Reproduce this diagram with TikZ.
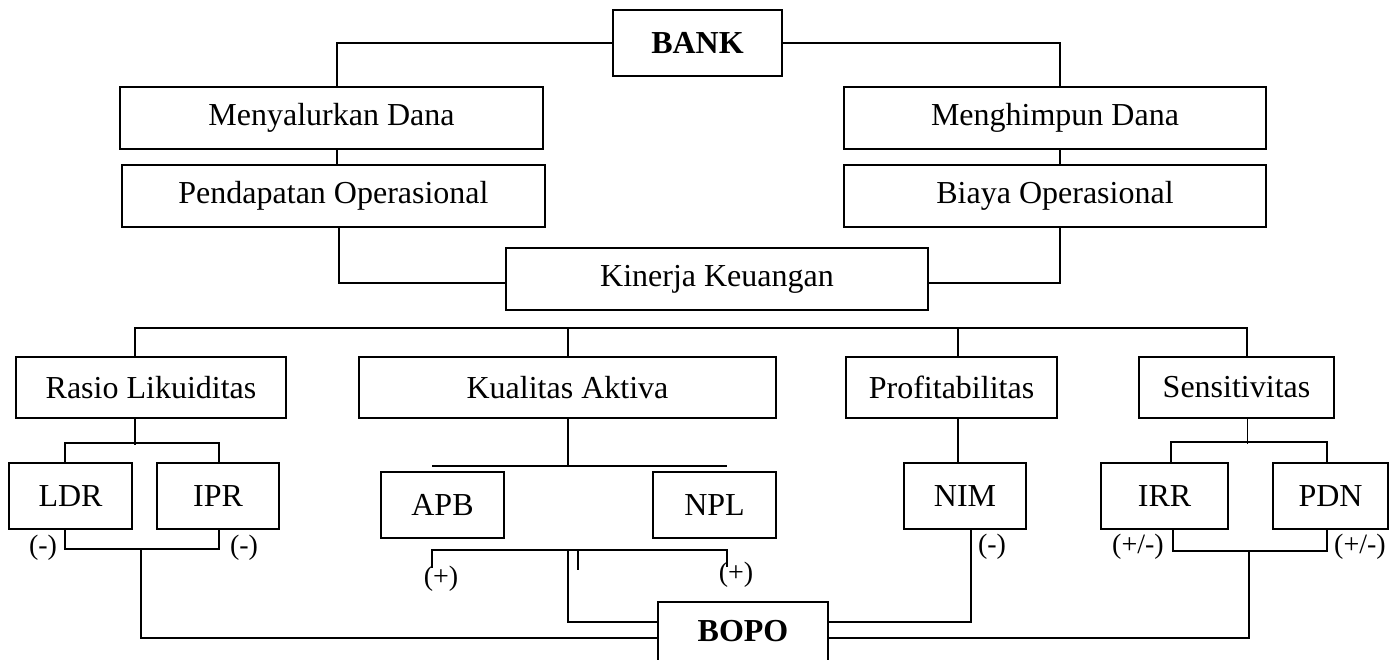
\documentclass[tikz,border=0pt]{standalone}
\usepackage{fontspec}
\setmainfont{Liberation Serif}
\begin{document}
\begin{tikzpicture}[x=1pt,y=-1pt,
  box/.style={draw, line width=1.8pt, inner sep=0pt, font=\fontsize{32}{38}\selectfont},
  lbl/.style={inner sep=0pt, font=\fontsize{28}{33}\selectfont},
  conn/.style={line width=1.8pt}]
\useasboundingbox (0,0) rectangle (1394,660);
% nodes
\node[box, minimum width=169pt, minimum height=66pt, font=\fontsize{32}{38}\selectfont\bfseries] (bank) at (697.5,43) {BANK};
\node[box, minimum width=423pt, minimum height=62pt] (menyal) at (331.5,118) {Menyalurkan Dana};
\node[box, minimum width=423pt, minimum height=62pt] (pendap) at (333.5,196) {Pendapatan Operasional};
\node[box, minimum width=422pt, minimum height=62pt] (menghim) at (1055,118) {Menghimpun Dana};
\node[box, minimum width=422pt, minimum height=62pt] (biaya) at (1055,196) {Biaya Operasional};
\node[box, minimum width=422pt, minimum height=62pt] (kinerja) at (717,279) {Kinerja Keuangan};
\node[box, minimum width=270pt, minimum height=61pt] (rasio) at (151,387.5) {Rasio Likuiditas};
\node[box, minimum width=417pt, minimum height=61pt] (kualitas) at (567.5,387.5) {Kualitas Aktiva};
\node[box, minimum width=211pt, minimum height=61pt] (profit) at (951.5,387.5) {Profitabilitas};
\node[box, minimum width=195pt, minimum height=61pt] (sensit) at (1236.5,387.5) {Sensitivitas};
\node[box, minimum width=123pt, minimum height=66pt] (ldr) at (70.5,496) {LDR};
\node[box, minimum width=122pt, minimum height=66pt] (ipr) at (218,496) {IPR};
\node[box, minimum width=123pt, minimum height=66pt] (apb) at (442.5,505) {APB};
\node[box, minimum width=123pt, minimum height=66pt] (npl) at (714.5,505) {NPL};
\node[box, minimum width=122pt, minimum height=66pt] (nim) at (965,496) {NIM};
\node[box, minimum width=127pt, minimum height=66pt] (irr) at (1164.5,496) {IRR};
\node[box, minimum width=115pt, minimum height=66pt] (pdn) at (1330.5,496) {PDN};
\node[box, draw=none, minimum width=168pt, minimum height=57pt, font=\fontsize{32}{38}\selectfont\bfseries] (bopo) at (743,631.5) {BOPO};
\draw[conn] (bopo.south west) -- (bopo.north west) -- (bopo.north east) -- (bopo.south east);
% labels
\node[lbl] (l1) at (43,548) {(-)};
\node[lbl] (l2) at (244,548) {(-)};
\node[lbl] (l3) at (441,579) {(+)};
\node[lbl] (l4) at (736,575) {(+)};
\node[lbl] (l5) at (992,547) {(-)};
\node[lbl] (l6) at (1138,547) {(+/-)};
\node[lbl] (l7) at (1360,547) {(+/-)};
% coordinates
\coordinate (liq) at (141,548);
\coordinate (kaTL) at (432,466);
\coordinate (kaTR) at (727,466);
\coordinate (kaBL) at (432,568);
\coordinate (kaBR) at (727,567);
\coordinate (kaM) at (568,550);
\coordinate (tickA) at (578,550);
\coordinate (tickB) at (578,570);
\coordinate (sen) at (1249,550);
% connectors top
\draw[conn] (bank.west) -| ([xshift=5.5pt]menyal.north);
\draw[conn] (bank.east) -| ([xshift=5pt]menghim.north);
\draw[conn] ([xshift=5.5pt]menyal.south) -- ([xshift=3.5pt]pendap.north);
\draw[conn] ([xshift=5pt]menghim.south) -- ([xshift=5pt]biaya.north);
\draw[conn] ([xshift=5.5pt]pendap.south) |- ([yshift=-4pt]kinerja.west);
\draw[conn] ([xshift=5pt]biaya.south) |- ([yshift=-4pt]kinerja.east);
% level 3 bus
\draw[conn] ([xshift=-16pt]rasio.north) -- ++(0,-28) -| ([xshift=10.5pt]sensit.north);
\draw[conn] ([xshift=0.5pt]kualitas.north) -- ++(0,-28);
\draw[conn] ([xshift=6.5pt]profit.north) -- ++(0,-28);
% liquidity
\draw[conn] ([xshift=-16pt]rasio.south) -- ++(0,26);
\draw[conn] ([xshift=-5.5pt]ldr.north) -- ++(0,-19) -| ([xshift=1pt]ipr.north);
\draw[conn] ([xshift=-5.5pt]ldr.south) -- ++(0,19) -| ([xshift=1pt]ipr.south);
\draw[conn] (liq) |- ([yshift=-6.5pt]bopo.west);
% asset quality
\draw[conn] ([xshift=0.5pt]kualitas.south) -- ([xshift=0.5pt]kualitas.south |- kaTL);
\draw[conn] (kaTL) -- (kaTR);
\draw[conn] (kaBL) |- (kaM) -| (kaBR);
\draw[conn] (tickA) -- (tickB);
\draw[conn] (kaM) |- ([yshift=9.5pt]bopo.west);
% profitability
\draw[conn] ([xshift=6.5pt]profit.south) -- ([xshift=-7pt]nim.north);
\draw[conn] ([xshift=6pt]nim.south) |- ([yshift=9.5pt]bopo.east);
% sensitivity
\draw[conn] ([xshift=11pt]sensit.south) -- ++(0,25);
\draw[conn] ([xshift=6.5pt]irr.north) -- ++(0,-20) -| ([xshift=-3.5pt]pdn.north);
\draw[conn] ([xshift=8.5pt]irr.south) -- ++(0,21) -| ([xshift=-3.5pt]pdn.south);
\draw[conn] (sen) |- ([yshift=-6.5pt]bopo.east);
\end{tikzpicture}
\end{document}
